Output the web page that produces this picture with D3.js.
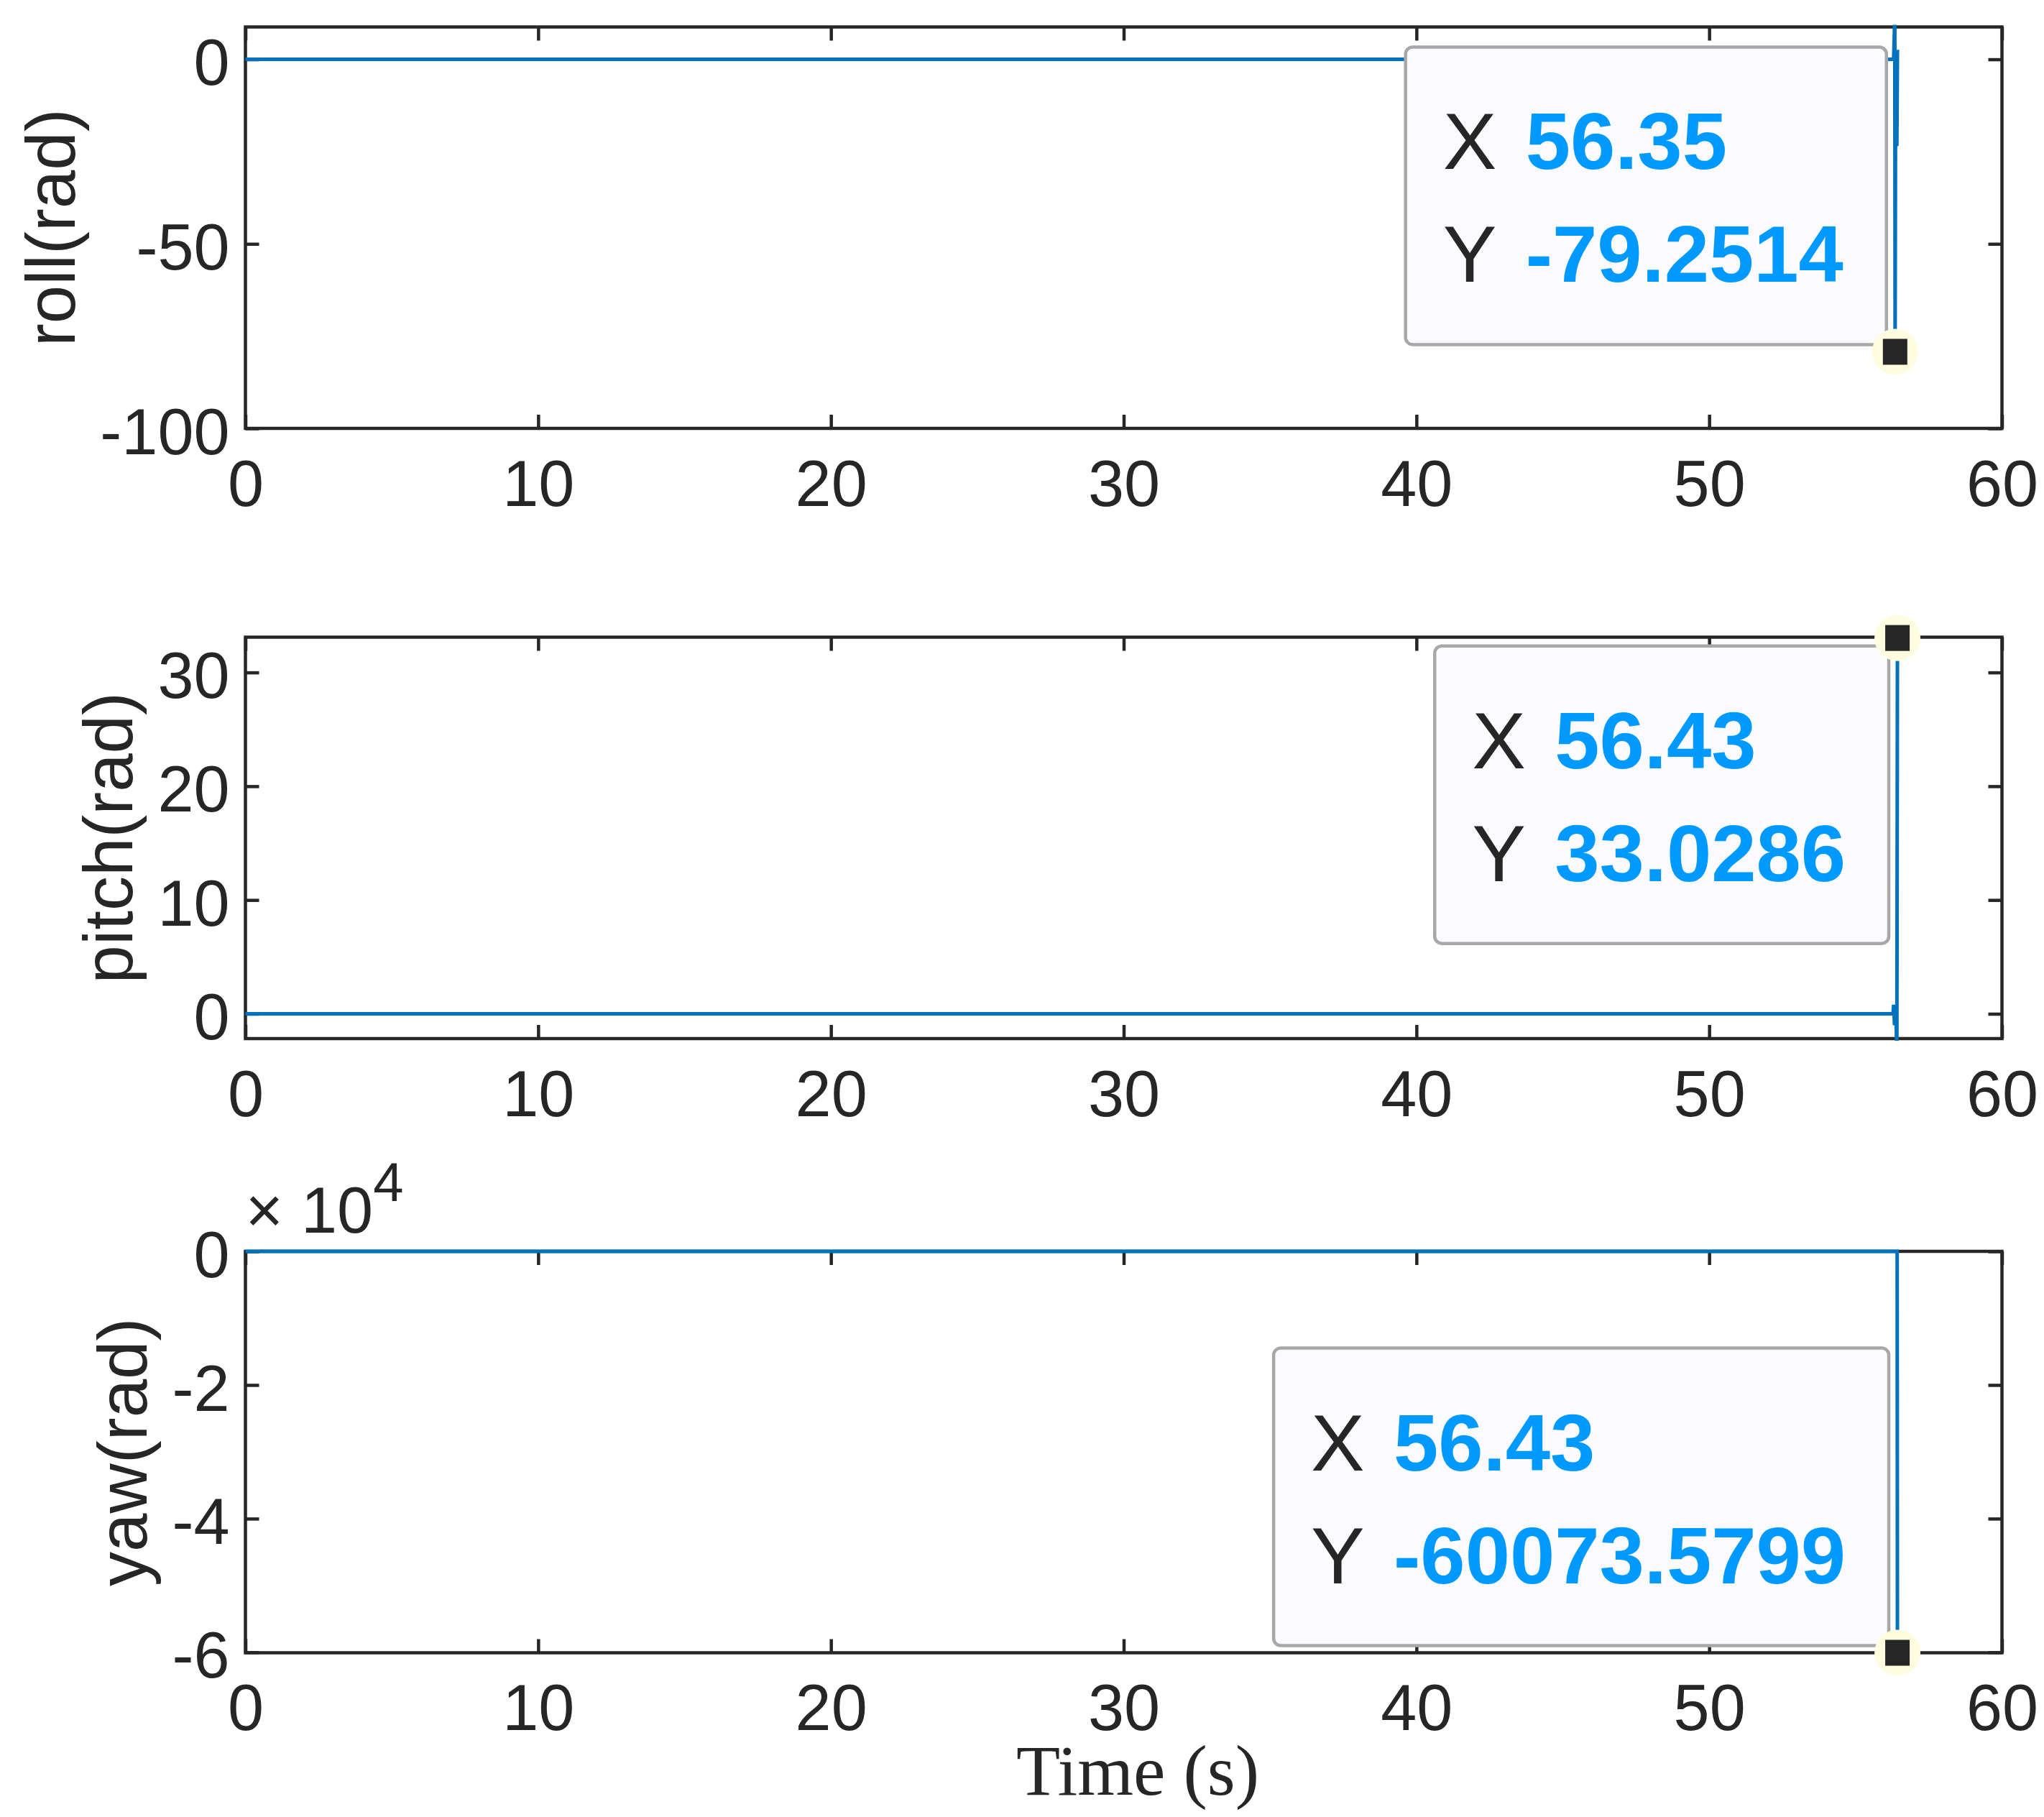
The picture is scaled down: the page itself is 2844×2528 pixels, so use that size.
<!DOCTYPE html>
<html>
<head>
<meta charset="utf-8">
<script src="https://cdn.jsdelivr.net/npm/d3@7"></script>
<style>
  body { margin: 0; background: #fff; }
  text { font-family: "Liberation Sans", Arial, sans-serif; fill: #262626; }
</style>
</head>
<body>
<div id="chart"></div>
<script>
// ---- data ----
var xTicks = [0, 10, 20, 30, 40, 50, 60];

var rollTime  = [0, 56.30, 56.34, 56.35, 56.37, 56.41, 56.43];
var rollValue = [0, 0, 12, -79.2514, 2.6, -23.5, 2.6];
var rollLimits = [-100, 8.77];
var rollTicks = [-100, -50, 0];

var pitchTime  = [0, 56.28, 56.30, 56.33, 56.36, 56.39, 56.41, 56.43];
var pitchValue = [0, 0, 0.8, -1.0, 0.8, -1.0, -4, 33.0286];
var pitchLimits = [-2.18, 33.1];
var pitchTicks = [0, 10, 20, 30];

var yawTime  = [0, 56.42, 56.43];
var yawValue = [0, 0, -60073.5799];
var yawLimits = [-60073.58, 0];
var yawTicks = [-60000, -40000, -20000, 0];

var labels = ["roll(rad)", "pitch(rad)", "yaw(rad)"];
var tipX = [56.35, 56.43, 56.43];
var tipY = [-79.2514, 33.0286, -60073.5799];
var tipText = ["-79.2514", "33.0286", "-60073.5799"];
var tipXText = ["56.35", "56.43", "56.43"];
var tipSide = ["up", "down", "up"];

// ---- layout ----
var W = 2844, H = 2528;
var left = 341.5, right = 2785.5;
var panelTops = [37.5, 886.5, 1741];
var panelH = 558.5;
var tick = 19;

var svg = d3.select("#chart").append("svg")
    .attr("width", W)
    .attr("height", H)
    .style("background", "#fff");

var panels = [
  { t: rollTime,  v: rollValue,  lim: rollLimits,  ticks: rollTicks,  fmt: function(d) { return String(d); } },
  { t: pitchTime, v: pitchValue, lim: pitchLimits, ticks: pitchTicks, fmt: function(d) { return String(d); } },
  { t: yawTime,   v: yawValue,   lim: yawLimits,   ticks: yawTicks,   fmt: function(d) { return String(d / 1e4); } }
];

var x = d3.scaleLinear().domain([0, 60]).range([left, right]);

panels.forEach(function(p, i) {
  var top = panelTops[i], bottom = top + panelH;
  var y = d3.scaleLinear().domain(p.lim).range([bottom, top]);
  var g = svg.append("g");

  // axes (inside ticks on all four sides)
  var gb = g.append("g").attr("transform", "translate(0," + bottom + ")")
      .call(d3.axisBottom(x).tickValues(xTicks).tickSize(-tick).tickPadding(44).tickFormat(d3.format("d")));
  g.append("g").attr("transform", "translate(0," + top + ")")
      .call(d3.axisTop(x).tickValues(xTicks).tickSize(-tick).tickFormat(""));
  var gl = g.append("g").attr("transform", "translate(" + left + ",0)")
      .call(d3.axisLeft(y).tickValues(p.ticks).tickSize(-tick).tickPadding(22).tickFormat(p.fmt));
  g.append("g").attr("transform", "translate(" + right + ",0)")
      .call(d3.axisRight(y).tickValues(p.ticks).tickSize(-tick).tickFormat(""));

  g.selectAll(".domain").remove();
  g.selectAll(".tick line").attr("stroke", "#262626").attr("stroke-width", 4.5);
  g.selectAll(".tick text").attr("font-size", 90).attr("fill", "#262626")
      .attr("font-family", "Liberation Sans, Arial, sans-serif");
  gl.selectAll(".tick text").attr("dy", "0.39em");

  g.append("rect")
      .attr("x", left).attr("y", top)
      .attr("width", right - left).attr("height", panelH)
      .attr("fill", "none").attr("stroke", "#262626").attr("stroke-width", 4.5);

  // y label, left of the tick labels
  var minX = d3.min(gl.selectAll(".tick text").nodes(), function(n) { return n.getBBox().x; });
  g.append("text")
      .attr("transform", "translate(" + (left + minX - 35) + "," + (top + panelH / 2) + ") rotate(-90)")
      .attr("text-anchor", "middle")
      .attr("font-size", 96)
      .text(labels[i]);

  if (i === 2) {
    var ex = g.append("text").attr("x", left).attr("y", top - 26).attr("font-size", 90);
    ex.append("tspan").text("\u00d7 10");
    ex.append("tspan").attr("font-size", 76).attr("dy", -44).text("4");
  }

  // data line
  var clipId = "clip" + i;
  svg.append("clipPath").attr("id", clipId).append("rect")
      .attr("x", left - 3).attr("y", top - 3)
      .attr("width", right - left + 6).attr("height", panelH + 6);

  var pts = p.t.map(function(t, k) { return [t, p.v[k]]; });
  g.append("path")
      .datum(pts)
      .attr("clip-path", "url(#" + clipId + ")")
      .attr("fill", "none")
      .attr("stroke", "#0072BD")
      .attr("stroke-width", 5)
      .attr("stroke-linejoin", "miter")
      .attr("d", d3.line().x(function(d) { return x(d[0]); }).y(function(d) { return y(d[1]); }));

  // data tip
  var mx = x(tipX[i]), my = y(tipY[i]);
  var tip = g.append("g");
  var box = tip.append("rect");
  var tx = tip.append("text").attr("font-size", 112);
  tx.append("tspan").attr("class", "lab").text("X");
  var xv = tx.append("tspan").attr("font-weight", "bold").attr("fill", "#0099FF").text(tipXText[i]);
  var ty = tip.append("text").attr("font-size", 112);
  ty.append("tspan").text("Y");
  var yv = ty.append("tspan").attr("font-weight", "bold").attr("fill", "#0099FF").text(tipText[i]);

  var vw = Math.max(xv.node().getComputedTextLength(), yv.node().getComputedTextLength());
  var bw = 167 + vw + 60, bh = 414;
  var bx = mx - 12 - bw;
  var by = tipSide[i] === "up" ? my - 10 - bh : my + 11;

  box.attr("x", bx).attr("y", by).attr("width", bw).attr("height", bh)
      .attr("rx", 10).attr("ry", 10)
      .attr("fill", "#FAFAFF").attr("stroke", "#A8A8A8").attr("stroke-width", 4.5);
  tx.attr("y", by + 170);
  ty.attr("y", by + 327);
  tx.select("tspan").attr("x", bx + 52);
  ty.select("tspan").attr("x", bx + 52);
  xv.attr("x", bx + 167);
  yv.attr("x", bx + 167);

  tip.append("circle").attr("cx", mx).attr("cy", my).attr("r", 32).attr("fill", "#FFFDE0");
  tip.append("rect").attr("x", mx - 17).attr("y", my - 18).attr("width", 34).attr("height", 36)
      .attr("fill", "#262626");
});

// x label
svg.append("text")
    .attr("x", 1583).attr("y", 2497)
    .attr("text-anchor", "middle")
    .attr("font-family", "Liberation Serif, Times New Roman, serif")
    .style("font-family", "Liberation Serif, Times New Roman, serif")
    .attr("font-size", 100)
    .attr("fill", "#000")
    .text("Time (s)");
</script>
</body>
</html>
